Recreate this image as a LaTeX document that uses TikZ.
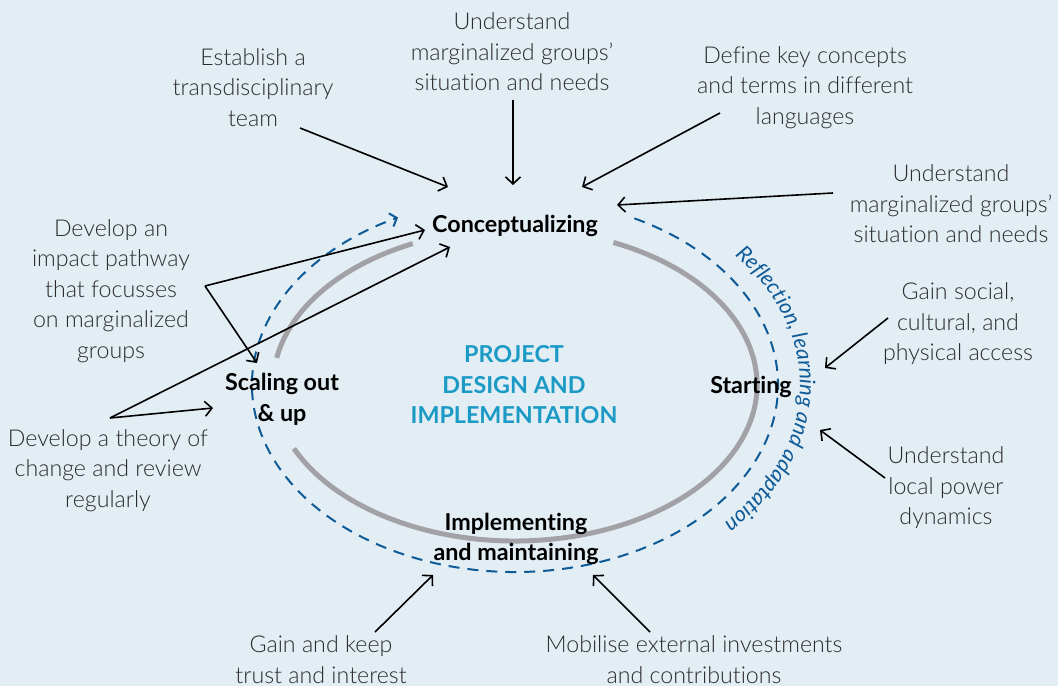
\documentclass[tikz,border=0pt]{standalone}
\usepackage{fontspec}
\setmainfont[Ligatures=NoCommon]{Lato}
\newfontfamily\lightfont[Ligatures=NoCommon]{Lato Light}
\usetikzlibrary{arrows.meta,decorations.text}
\definecolor{bg}{HTML}{E2EDF4}
\definecolor{ring}{HTML}{A2A2A6}
\definecolor{dblue}{HTML}{0E5A97}
\definecolor{cyanT}{HTML}{1A9AC5}
\definecolor{txt}{HTML}{2B2B2B}
\begin{document}
\begin{tikzpicture}[x=1pt,y=1pt,
  outer/.style={font=\lightfont\fontsize{23.2}{30.5}\selectfont, text=txt, align=center, inner sep=0pt},
  stage/.style={font=\bfseries\fontsize{23.3}{30.5}\selectfont, text=black, align=center, inner sep=0pt},
  arr/.style={-{Straight Barb[length=7pt,width=15pt]}, line width=1.6pt, black},
  ringline/.style={line width=5pt, ring},
  loopline/.style={line width=2pt, dblue, dash pattern=on 11pt off 8pt, -{Straight Barb[length=6pt,width=14pt]}}]
\fill[bg] (0,0) rectangle (1058,686);
\useasboundingbox (0,0) rectangle (1058,686);
\coordinate (C) at (515,301);
% grey cycle
\draw[ringline] (C) ++(66:242 and 156) arc[start angle=66, end angle=-156, x radius=242, y radius=156];
\draw[ringline] (C) ++(115:242 and 156) arc[start angle=115, end angle=170, x radius=242, y radius=156];
% dashed reflection loop
\draw[loopline] (C) ++(63:263 and 187) arc[start angle=63, end angle=-243.6, x radius=263, y radius=187];
% curved label
\path[decorate, decoration={text along path, text align=center,
  text={|\color{dblue}\itshape\fontsize{21.5}{21.5}\selectfont|Reflection, learning and adaptation}}]
  (C) ++(60:285 and 203) arc[start angle=60, end angle=-63, x radius=285, y radius=203];
% centre
\node[font=\bfseries\fontsize{23.3}{30.5}\selectfont, text=cyanT, align=center, inner sep=0pt] (centre) at (514,301) {PROJECT\\DESIGN AND\\IMPLEMENTATION};
% stages
\node[stage] (concept) at (515,460) {Conceptualizing};
\node[stage] (starting) at (751,299.5) {Starting};
\node[stage] (scaling) at (282,286.5) {Scaling out\\\& up};
\node[stage] (implement) at (516,147) {Implementing\\and maintaining};
% outer texts
\node[outer] (establish) at (253,598.5) {Establish a\\transdisciplinary\\team};
\node[outer] (understandA) at (512,634) {Understand\\marginalized groups’\\situation and needs};
\node[outer] (define) at (805,598.5) {Define key concepts\\and terms in different\\languages};
\node[outer] (understandB) at (951,482) {Understand\\marginalized groups’\\situation and needs};
\node[outer] (access) at (958,362) {Gain social,\\cultural, and\\physical access};
\node[outer] (power) at (946,198) {Understand\\local power\\dynamics};
\node[outer] (mobilise) at (694,26.5) {Mobilise external investments\\and contributions};
\node[outer] (trust) at (321,26.5) {Gain and keep\\trust and interest};
\node[outer] (theory) at (108,215.5) {Develop a theory of\\change and review\\regularly};
\node[outer] (pathway) at (111,395) {Develop an\\impact pathway\\that focusses\\on marginalized\\groups};
% arrow end points
\coordinate (e1) at (300,558); \coordinate (t1) at (448,499);
\coordinate (e2) at (513,586); \coordinate (t2) at (513,501);
\coordinate (e3) at (720,573); \coordinate (t3) at (582,499);
\coordinate (e4) at (833,493); \coordinate (t4) at (617,481);
\coordinate (e5) at (888,368); \coordinate (t5) at (825,318);
\coordinate (e6) at (885,208); \coordinate (t6) at (820,256);
\coordinate (e7) at (650,54);  \coordinate (t7) at (593,111);
\coordinate (e8) at (375,54);  \coordinate (t8) at (433,111);
\coordinate (v9) at (205,400); \coordinate (t9a) at (425,456); \coordinate (t9b) at (257,323);
\coordinate (v10) at (110,268); \coordinate (t10a) at (213,278); \coordinate (t10b) at (450,439);
\draw[arr] (e1) -- (t1);
\draw[arr] (e2) -- (t2);
\draw[arr] (e3) -- (t3);
\draw[arr] (e4) -- (t4);
\draw[arr] (e5) -- (t5);
\draw[arr] (e6) -- (t6);
\draw[arr] (e7) -- (t7);
\draw[arr] (e8) -- (t8);
\draw[arr] (v9) -- (t9a);
\draw[arr] (v9) -- (t9b);
\draw[arr] (v10) -- (t10a);
\draw[arr] (v10) -- (t10b);
\end{tikzpicture}
\end{document}
